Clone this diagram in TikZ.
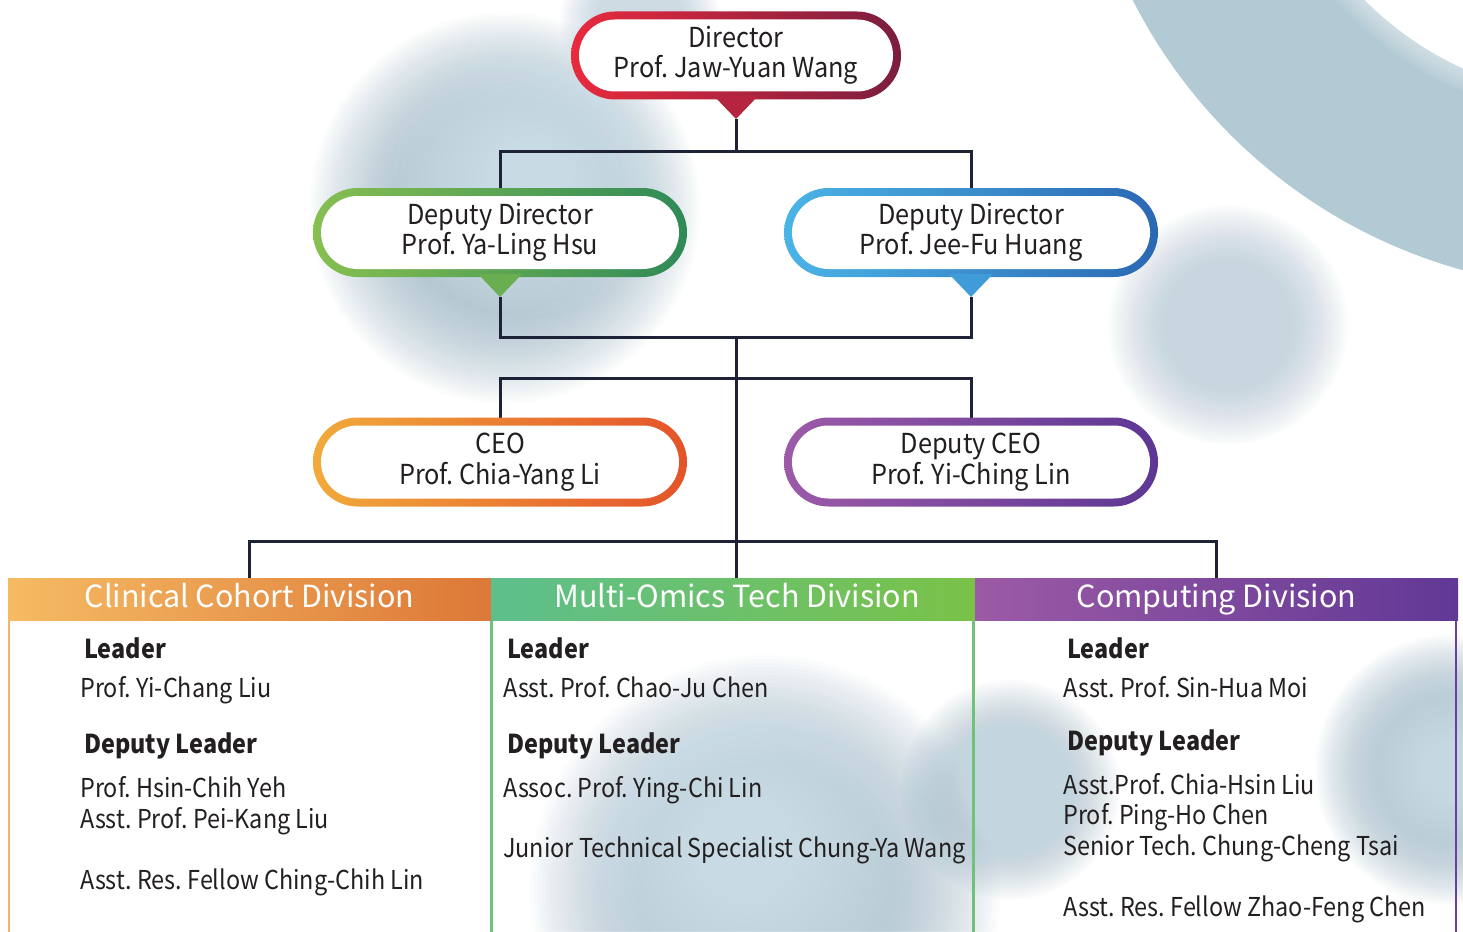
\documentclass[tikz,border=0pt]{standalone}
\usepackage{fontspec}
\setmainfont{Noto Sans CJK TC}
\newfontfamily\condfont{Noto Sans CJK TC}[FakeStretch=0.9]
\newfontfamily\boxfont{Noto Sans CJK TC}[FakeStretch=0.92]
\usetikzlibrary{shapes.misc}
\definecolor{txt}{HTML}{231F20}
\definecolor{linec}{HTML}{1D2236}
\definecolor{bandc}{HTML}{B2CAD4}
\definecolor{blobrim}{HTML}{A3BCCB}
\definecolor{blobmid}{HTML}{D6E9F2}
\definecolor{dirL}{HTML}{E82A3E}\definecolor{dirR}{HTML}{7B1E3E}\definecolor{dirP}{HTML}{B5253F}
\definecolor{ddaL}{HTML}{87BF51}\definecolor{ddaR}{HTML}{2F8A57}\definecolor{ddaP}{HTML}{6AAE52}
\definecolor{ddbL}{HTML}{4BB4E6}\definecolor{ddbR}{HTML}{2B68B3}\definecolor{ddbP}{HTML}{3F9CD9}
\definecolor{ceoL}{HTML}{F1AA3B}\definecolor{ceoR}{HTML}{E4532A}
\definecolor{dceoL}{HTML}{9C5AA8}\definecolor{dceoR}{HTML}{5D3794}
\definecolor{hAL}{HTML}{F5BB63}\definecolor{hAR}{HTML}{DD7838}
\definecolor{hBL}{HTML}{5DBF8D}\definecolor{hBR}{HTML}{7AC248}
\definecolor{hCL}{HTML}{9C5AA5}\definecolor{hCR}{HTML}{613896}
\definecolor{bordA}{HTML}{F3B560}\definecolor{bordB}{HTML}{72C17A}\definecolor{bordC}{HTML}{6A3F9B}
\pgfdeclarelayer{back}\pgfdeclarelayer{lines}
\pgfsetlayers{back,lines,main}
% cx cy R rimopacity midopacity dx dy (offset of light centre)
\newcommand\myblob[7]{%
  \foreach \k in {0,...,27}{\fill[blobrim, opacity=#4] (#1,#2) circle ({#3*(1-0.017*\k)});}
  \foreach \k in {0,...,14}{\fill[blobmid, opacity=#5] (#1+#6,#2+#7) circle ({#3*(0.70-0.035*\k)});}
}
\frenchspacing
\begin{document}
\begin{tikzpicture}[x=1pt,y=-1pt,
  pillout/.style={rounded rectangle, inner sep=0pt, minimum width=374pt, minimum height=89pt},
  pillin/.style={rounded rectangle, fill=white, inner sep=0pt, minimum width=358pt, minimum height=73pt,
     font=\boxfont\fontsize{27.5}{30.5}\selectfont, align=center, text=txt},
  link/.style={draw=linec, line width=3pt},
  divhead/.style={rectangle, minimum height=42pt, minimum width=484pt, inner sep=0pt,
     text height=21pt, text depth=6pt,
     font=\fontsize{30.5}{33}\selectfont, text=white},
  bodytxt/.style={anchor=base west, inner sep=0pt, font=\condfont\fontsize{26}{28}\selectfont, text=txt},
  bodyhead/.style={anchor=base west, inner sep=0pt, font=\condfont\fontsize{26}{28}\selectfont\bfseries, text=txt}
]
\useasboundingbox (0,0) rectangle (1463,931);
\begin{pgfonlayer}{back}
\fill[white] (0,0) rectangle (1463,931);
\begin{scope}
\clip (0,0) rectangle (1463,931);
\fill[bandc, even odd rule] (1603,-238) circle (527) (1603,-238) circle (337);
\foreach \k in {0,...,7}{\fill[white, opacity=0.07] (1603,-238) circle ({337+3*\k});}
\myblob{505}{208}{195}{0.045}{0.075}{25}{-30}
\myblob{1228}{325}{120}{0.025}{0.05}{10}{-10}
\myblob{765}{890}{235}{0.04}{0.065}{-20}{-40}
\myblob{1010}{790}{110}{0.03}{0.05}{0}{0}
\myblob{1450}{770}{135}{0.045}{0.06}{0}{0}
\myblob{640}{20}{80}{0.018}{0.025}{0}{0}
\end{scope}
\end{pgfonlayer}

% Director
\node[pillout, left color=dirL, right color=dirR, minimum width=330pt, minimum height=88pt] (diro) at (736,55.5) {};
\node[pillin, minimum width=314pt, minimum height=72pt] (dir) at (736,55.5) {Director\\Prof. Jaw-Yuan Wang};
\fill[dirP] (714,96) -- (758,96) -- (736,119) -- cycle;
\coordinate (dirtip) at (736,119);

% Deputy directors
\node[pillout, left color=ddaL, right color=ddaR] (ddao) at (500,232.5) {};
\node[pillin] (dda) at (500,232.5) {Deputy Director\\Prof. Ya-Ling Hsu};
\fill[ddaP] (478,274) -- (522,274) -- (500,297) -- cycle;
\coordinate (ddatip) at (500,297);

\node[pillout, left color=ddbL, right color=ddbR] (ddbo) at (971,232.5) {};
\node[pillin] (ddb) at (971,232.5) {Deputy Director\\Prof. Jee-Fu Huang};
\fill[ddbP] (949,274) -- (993,274) -- (971,297) -- cycle;
\coordinate (ddbtip) at (971,297);

% CEO
\node[pillout, left color=ceoL, right color=ceoR] (ceoo) at (500,462) {};
\node[pillin] (ceo) at (500,462) {CEO\\Prof. Chia-Yang Li};
\node[pillout, left color=dceoL, right color=dceoR] (dceoo) at (971,462) {};
\node[pillin] (dceo) at (971,462) {Deputy CEO\\Prof. Yi-Ching Lin};

% Division panels
\draw[bordA, line width=2.5pt] (9,620) -- (9,940);
\draw[bordC, line width=2.5pt] (1456,620) -- (1456,940);
\draw[bordB, line width=2.5pt] (491.5,620) -- (491.5,940) (973.5,620) -- (973.5,940);
\node[divhead, left color=hAL, right color=hAR, minimum width=483pt] (diva) at (249.5,599.5) {Clinical Cohort Division};
\node[divhead, left color=hBL, right color=hBR, minimum width=484pt] (divb) at (733,599.5) {\hspace*{8pt}Multi-Omics Tech Division};
\node[divhead, left color=hCL, right color=hCR, minimum width=483pt] (divc) at (1216.5,599.5) {Computing Division};

% Connectors
\begin{pgfonlayer}{lines}
\coordinate (ja) at (736,337);
\coordinate (jb) at (736,378);
\coordinate (jc) at (736,541);
\draw[link] (dirtip) -- ++(0,32) -| (dda);
\draw[link] (dirtip) -- ++(0,32) -| (ddb);
\draw[link] (ddatip) -- ++(0,40) -| (ddbtip);
\draw[link] (ja) -- (divb.north -| ja);
\draw[link] (ceo) |- (jb) -| (dceo);
\draw[link] (diva) |- (jc) -| (divc);
\end{pgfonlayer}

% Clinical body
\node[bodyhead] (a1) at (84,658) {Leader};
\node[bodytxt] (a2) at (80,697) {Prof. Yi-Chang Liu};
\node[bodyhead] (a3) at (84,753) {Deputy Leader};
\node[bodytxt] (a4) at (80,797) {Prof. Hsin-Chih Yeh};
\node[bodytxt] (a5) at (80,828) {Asst. Prof. Pei-Kang Liu};
\node[bodytxt] (a6) at (80,889) {Asst. Res. Fellow Ching-Chih Lin};
% Multi-omics body
\node[bodyhead] (b1) at (507,658) {Leader};
\node[bodytxt] (b2) at (503,697) {Asst. Prof. Chao-Ju Chen};
\node[bodyhead] (b3) at (507,753) {Deputy Leader};
\node[bodytxt] (b4) at (503,797) {Assoc. Prof. Ying-Chi Lin};
\node[bodytxt] (b5) at (503,857) {Junior Technical Specialist Chung-Ya Wang};
% Computing body
\node[bodyhead] (c1) at (1067,658) {Leader};
\node[bodytxt] (c2) at (1063,697) {Asst. Prof. Sin-Hua Moi};
\node[bodyhead] (c3) at (1067,750) {Deputy Leader};
\node[bodytxt] (c4) at (1063,794) {Asst.Prof. Chia-Hsin Liu};
\node[bodytxt] (c5) at (1063,824) {Prof. Ping-Ho Chen};
\node[bodytxt] (c6) at (1063,855) {Senior Tech. Chung-Cheng Tsai};
\node[bodytxt] (c7) at (1063,916) {Asst. Res. Fellow Zhao-Feng Chen};
\end{tikzpicture}
\end{document}
